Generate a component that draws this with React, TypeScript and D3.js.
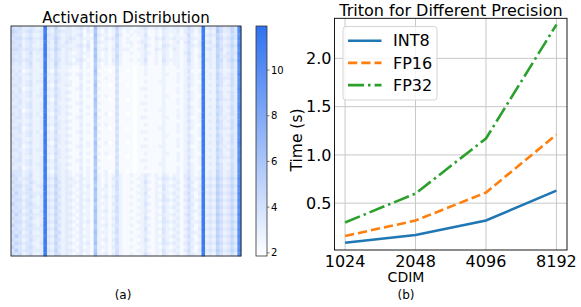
import React, { useEffect, useRef } from 'react'
import * as d3 from 'd3'

// activation heatmap, one char per cell: level index into LEVELS, value = 1.75 + 0.5 * idx
const LEVELS = '0123456789abcdefghijk'
const heatRows = [
  '54533432 3j436323 32342319 32323632 22123422 32432332 35323j34 3753464h',
  '65434533 4i325433 32231328 21312521 21222311 21322231 34313j23 2853364h',
  '54423422 3j435323 32341219 32212631 12122411 21321221 25212j34 3642354g',
  '45534533 4j336423 43232228 21323521 21112321 32422322 24322j23 2753464h',
  '54423432 3i426324 32231318 32212521 22123311 21321231 35213j34 2642353g',
  '44523422 3j325333 22342417 21212621 12112421 21432221 24323j23 3743464h',
  '55434433 4j436423 32231319 22313522 21122311 32321321 24212j34 2652353g',
  '44423523 3j325323 21232218 21212521 12112321 21321221 35212j23 2642454h',
  '43423422 3j425323 22231219 21212621 11112311 21321221 24213j23 2743353g',
  '54434423 3i335423 21342118 32213521 12122411 21422221 25212j33 2652464h',
  '43423522 3j326323 32231217 21212521 11112311 21321221 24212j23 2642353g',
  '33323422 3j325322 21131218 21111411 11011211 11211121 23212j23 2642353g',
  '43412322 2j214222 11121119 11101511 01011211 11211111 24111j22 2532243g',
  '34323422 3i325323 21231218 21111411 11011211 11221121 23212j23 2642353h',
  '43422322 3j224322 11131117 11211511 11011111 11211121 24212j23 2643353g',
  '33423423 3j325322 21121218 21111411 11011211 12211121 23211j22 2542253g',
  '44323422 2j214223 21131119 11101511 01011111 11211111 24212j23 2642353g',
  '33412322 3j325322 11231218 21111411 11012211 11211121 23112j22 2532243h',
  '43423422 3i224323 21121118 11111511 11011111 11211121 24212j23 2642353g',
  '34323423 3j325322 11131217 21211411 11011211 11221111 23211j22 2542253g',
  '43422322 2j214323 21121119 11101511 01011111 11211121 24212j23 2643353g',
  '33423422 3j325222 11231118 21111411 11012211 11211121 23112j22 2532243g',
  '44323422 3j224323 21121218 11111511 11011111 11211111 24212j23 2642353h',
  '33412322 3i325322 11131117 21111411 11011211 12211121 23211j22 2542253g',
  '43423423 2j214323 21121219 11201511 01011111 11211121 24212j23 2642353g',
  '34423422 3j325222 11231118 21111411 11012211 11221121 23112j22 2533243g',
  '43322322 3j224323 21121118 11111511 11011111 11211111 24212j23 2642353g',
  '33423422 3j325322 11131217 21211411 11011211 11211121 23211j22 2542253h',
  '44412322 3i214323 21121119 11101511 01011111 12211121 24212j23 2643353g',
  '33423423 2j325222 11231218 21111411 11012211 11211121 23112j22 2532243g',
  '43323422 3j224323 21121118 11111511 11011111 11221111 24212j23 2642353g',
  '34422322 3j325322 11131117 21111411 11011211 11211121 23211j22 2542253g',
  '43423422 3j214323 21121219 11201511 01011111 11211121 24212j23 2642353h',
  '33412322 3i325222 11231218 21111411 11012211 12211121 23112j22 2533243g',
  '44323423 3j224323 21121118 11111511 11011111 11211111 24212j23 2642353g',
  '33423422 2j325322 11131217 21211411 11011211 11221121 23211j22 2542253g',
  '43422322 3j214323 21121119 11101511 01011111 11211121 24212j23 2643353g',
  '34423422 3j325222 11231218 21111411 11012211 11211121 23112j22 2532243h',
  '43323423 3i224323 21121118 11111511 11011111 12211111 24212j23 2642353g',
  '33412322 3j325322 11131217 21111411 11011211 11211121 23211j22 2542253g',
  '44423422 3j214323 21121219 11201511 01011111 11211121 24212j23 2642353g',
  '54423522 3j325323 21231218 21212521 12112321 21321221 34212j23 2642353g',
  '45334422 3j436323 32132219 21213421 11122311 22432321 35223j34 3753464h',
  '54423532 3i325423 22231218 21212521 12112421 21321231 24312j23 2642353g',
  '45534423 4j436323 32132317 21313521 11122311 22422321 35213j34 3753464h',
  '54424522 3j325423 21231219 22212521 12112321 21421231 24322j23 2642353g',
  '46434433 3j436323 32132218 21212421 11122411 22322321 35213j34 3753464h',
  '54423532 4i325423 21231218 22313521 12112321 21421231 24312j23 2642353g',
  '45534422 3j436323 32132319 21212521 11122311 22432321 35223j34 3753464h',
  '64424532 3j325423 21231217 22213421 12112421 21321231 24312j23 2642353g',
  '45434433 3j436323 32132218 21212521 11122311 22422321 35213j34 3753464h',
  '54523522 4j325423 21231219 22313521 12112321 21421231 24322j23 2642353g',
  '46434433 3i436323 32132218 21212421 11122311 22322321 35213j34 3753464h',
  '54423532 3j325423 21231218 22213521 12112421 21421231 24312j23 2642353g',
  '45534422 3j436323 32132319 21212521 11122311 22432321 35223j34 3753464h',
  '64424532 4j325423 21231217 22313421 12112321 21321231 24312j23 2642353g',
  '45434433 3j436323 32132218 21212521 11122411 22422321 35213j34 3753464h',
  '54523522 3j325523 21231219 22213521 12112321 21421231 24322j23 2642353g',
  '47434433 3i436323 32132218 21212421 11122311 22322321 35213j34 3753464h',
  '54423532 3j325423 21231218 22313521 12112421 21421231 24312j23 2642353g',
  '46534422 4j436323 32132319 21212521 11122311 22432321 35223j34 3753464h',
  '64424532 3j325423 21231217 22213421 12112321 21321231 24312j23 2642353g',
  '47434433 3j436323 32132218 21212521 11122311 22422321 35213j34 3753464h',
  '54523522 3j325423 21231219 22313521 12112421 21421231 24322j23 2642353g'
]
const cbarTicks = [2, 4, 6, 8, 10]

// timing plot
const cdim = [1024, 2048, 4096, 8192]
const int8 = [0.09, 0.17, 0.32, 0.63]
const fp16 = [0.16, 0.32, 0.61, 1.21]
const fp32 = [0.30, 0.60, 1.17, 2.35]
const timeTicks = [0.5, 1.0, 1.5, 2.0]
const seriesNames = ['INT8', 'FP16', 'FP32']

const FONT = 'DejaVu Sans, sans-serif'
const N = 64

export default function App () {
  const ref = useRef<SVGSVGElement>(null)

  useEffect(() => {
    const svg = d3.select(ref.current)
    svg.selectAll('*').remove()

    // ---------- (a) heatmap ----------
    const grid = heatRows.map(r => {
      const s = r.replace(/ /g, '')
      return d3.range(N).map(j => {
        const k = LEVELS.indexOf(s.charAt(j))
        return 1.75 + 0.5 * (k < 0 ? 1 : k)
      })
    })
    const vmin = 1.86
    const vmax = 11.93
    const cmap = d3.scaleLinear<string>().domain([vmin, vmax])
      .range(['#ffffff', '#2f72f0']).interpolate(d3.interpolateRgb).clamp(true)
    const hx = d3.scaleBand<number>().domain(d3.range(N)).range([11, 241])
    const hy = d3.scaleBand<number>().domain(d3.range(N)).range([26, 256])

    const hm = svg.append('g')
    grid.forEach((row, i) => {
      hm.selectAll(null).data(row).enter().append('rect')
        .attr('x', (d, j) => hx(j)!)
        .attr('y', hy(i)!)
        .attr('width', hx.bandwidth() + 0.4)
        .attr('height', hy.bandwidth() + 0.4)
        .attr('fill', d => cmap(d))
    })
    svg.append('rect').attr('x', 11).attr('y', 26).attr('width', 230).attr('height', 230)
      .attr('fill', 'none').attr('stroke', '#222').attr('stroke-width', 0.9)
    svg.append('text').attr('x', 126).attr('y', 22.5).attr('text-anchor', 'middle')
      .attr('font-size', 15).attr('font-family', FONT).text('Activation Distribution')

    // colorbar
    const cy = d3.scaleLinear().domain([vmin, vmax]).range([256, 26])
    const defs = svg.append('defs')
    const grad = defs.append('linearGradient').attr('id', 'cb').attr('x1', 0).attr('y1', 1).attr('x2', 0).attr('y2', 0)
    d3.range(0, 1.0001, 0.1).forEach(t => {
      grad.append('stop').attr('offset', t).attr('stop-color', cmap(vmin + t * (vmax - vmin)))
    })
    svg.append('rect').attr('x', 256).attr('y', 26).attr('width', 11).attr('height', 230)
      .attr('fill', 'url(#cb)').attr('stroke', '#333').attr('stroke-width', 0.8)
    const cb = svg.append('g').selectAll('g').data(cbarTicks).enter().append('g')
      .attr('transform', d => `translate(267,${cy(d)})`)
    cb.append('line').attr('x1', 0).attr('x2', 2.5).attr('stroke', '#555').attr('stroke-width', 0.8)
    cb.append('text').attr('x', 4).attr('dy', '0.35em').attr('font-size', 10)
      .attr('font-family', FONT).text(d => d)

    svg.append('text').attr('x', 123).attr('y', 299).attr('text-anchor', 'middle')
      .attr('font-size', 12).attr('font-family', FONT).text('(a)')

    // ---------- (b) line chart ----------
    const L = 334.5, R = 567, T = 18.3, B = 250
    const x = d3.scaleLog().base(2).domain([Math.pow(2, 9.85), Math.pow(2, 13.15)]).range([L, R])
    const y = d3.scaleLinear().domain([0.015, 2.415]).range([B, T])
    const g = svg.append('g')

    g.selectAll('.gx').data(cdim).enter().append('line')
      .attr('x1', d => x(d)).attr('x2', d => x(d)).attr('y1', T).attr('y2', B)
      .attr('stroke', '#c8c8c8').attr('stroke-width', 1)
    g.selectAll('.gy').data(timeTicks).enter().append('line')
      .attr('x1', L).attr('x2', R).attr('y1', d => y(d)).attr('y2', d => y(d))
      .attr('stroke', '#c8c8c8').attr('stroke-width', 1)

    const series = [
      { name: seriesNames[0], vals: int8, color: '#1f77b4', dash: null },
      { name: seriesNames[1], vals: fp16, color: '#ff7f0e', dash: '9.25,4' },
      { name: seriesNames[2], vals: fp32, color: '#2ca02c', dash: '16,4,2.5,4' }
    ]
    const line = d3.line<number>().x((d, i) => x(cdim[i])).y(d => y(d))
    series.forEach(s => {
      g.append('path').attr('d', line(s.vals)!).attr('fill', 'none')
        .attr('stroke', s.color).attr('stroke-width', 2.6)
        .attr('stroke-dasharray', s.dash)
    })

    g.append('rect').attr('x', L).attr('y', T).attr('width', R - L).attr('height', B - T)
      .attr('fill', 'none').attr('stroke', '#000').attr('stroke-width', 0.9)

    g.selectAll('.xt').data(cdim).enter().append('text')
      .attr('x', d => x(d)).attr('y', 267).attr('text-anchor', 'middle')
      .attr('font-size', 16).attr('font-family', FONT).text(d => d)
    g.selectAll('.yt').data(timeTicks).enter().append('text')
      .attr('x', L - 3).attr('y', d => y(d)).attr('dy', '0.35em').attr('text-anchor', 'end')
      .attr('font-size', 16).attr('font-family', FONT).text(d => d.toFixed(1))

    g.append('text').attr('x', 451).attr('y', 16).attr('text-anchor', 'middle')
      .attr('font-size', 16).attr('font-family', FONT).text('Triton for Different Precision')
    g.append('text').attr('transform', 'translate(302,140) rotate(-90)').attr('text-anchor', 'middle')
      .attr('font-size', 15.5).attr('font-family', FONT).text('Time (s)')
    g.append('text').attr('x', 406).attr('y', 282).attr('text-anchor', 'middle')
      .attr('font-size', 14).attr('font-family', FONT).text('CDIM')
    g.append('text').attr('x', 406).attr('y', 299).attr('text-anchor', 'middle')
      .attr('font-size', 12).attr('font-family', FONT).text('(b)')

    // legend
    const lg = g.append('g')
    lg.append('rect').attr('x', 343).attr('y', 26.5).attr('width', 94).attr('height', 73.5)
      .attr('rx', 3).attr('fill', 'rgba(255,255,255,0.8)').attr('stroke', '#d0d0d0').attr('stroke-width', 0.9)
    const le = lg.selectAll('.le').data(series).enter().append('g')
      .attr('transform', (d, i) => `translate(348,${40.7 + i * 22.2})`)
    le.append('line').attr('x1', 0).attr('x2', 33.5).attr('stroke', d => d.color)
      .attr('stroke-width', 2.6).attr('stroke-dasharray', d => d.dash)
    le.append('text').attr('x', 45).attr('dy', '0.35em').attr('font-size', 16)
      .attr('font-family', FONT).text(d => d.name)
  }, [])

  return (
    <svg ref={ref} width={581} height={307} style={{ position: 'absolute', left: 0, top: 0, background: '#fff' }} />
  )
}
